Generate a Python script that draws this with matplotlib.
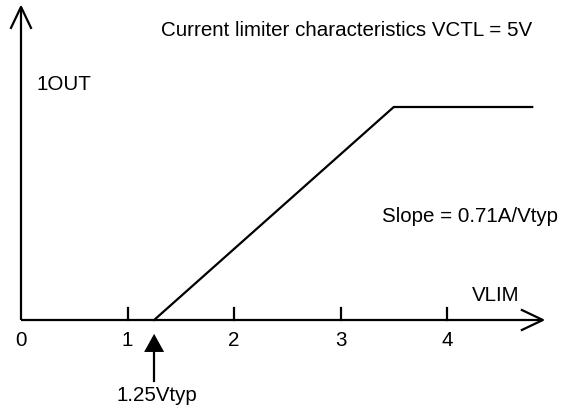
"""Current limiter characteristics sketch (IOUT vs VLIM)."""

import matplotlib
matplotlib.use("Agg")
import matplotlib.pyplot as plt

# Data
tick_vals = [0, 1, 2, 3, 4]
tick_labels = ["0", "1", "2", "3", "4"]
curve_x = [1.25, 3.5, 4.8]
curve_y = [0.0, 2.0, 2.0]
threshold = 1.25
title = "Current limiter characteristics VCTL = 5V"
slope_text = "Slope = 0.71A/Vtyp"

PX = 106.5  # pixels per data unit (both axes)
FONT = ["Liberation Sans", "DejaVu Sans"]
FS = 14.8

fig = plt.figure(figsize=(5.67, 4.10), dpi=100)
ax = fig.add_axes([0, 0, 1, 1])
ax.set_xlim(-21 / PX, (567 - 21) / PX)
ax.set_ylim(-(410 - 321) / PX, 321 / PX)
ax.axis("off")

lw = 1.6
k = "black"
x_end, y_end = 4.9, 2.94
ah_len, ah_w = 21 / PX, 10 / PX

# axes with open arrowheads
ax.plot([0, x_end], [0, 0], color=k, lw=lw, solid_capstyle="butt")
ax.plot([0, 0], [0, y_end], color=k, lw=lw, solid_capstyle="butt")
ax.plot([x_end - ah_len, x_end, x_end - ah_len], [ah_w, 0, -ah_w], color=k, lw=lw)
ax.plot([-ah_w, 0, ah_w], [y_end - ah_len, y_end, y_end - ah_len], color=k, lw=lw)

# ticks
for t in tick_vals[1:]:
    ax.plot([t, t], [0, 12 / PX], color=k, lw=lw)
for t, lab in zip(tick_vals, tick_labels):
    ax.text(t, -0.18, lab, ha="center", va="center", fontsize=FS, family=FONT)

# characteristic curve
ax.plot(curve_x, curve_y, color=k, lw=lw)

# threshold marker
ax.fill([threshold - 10 / PX, threshold, threshold + 10 / PX],
        [-0.30, -0.13, -0.30], color=k, lw=0)
ax.plot([threshold, threshold], [-0.30, -0.575], color=k, lw=lw)
ax.text(threshold + 0.03, -0.70, f"{threshold}Vtyp", ha="center", va="center",
        fontsize=FS, family=FONT)

# labels
ax.text(3.06, 2.73, title, ha="center", va="center", fontsize=FS, family=FONT)
ax.text(0.15, 2.22, "1OUT", ha="left", va="center", fontsize=FS, family=FONT)
ax.text(3.39, 0.98, slope_text, ha="left", va="center", fontsize=FS, family=FONT)
ax.text(4.23, 0.244, "VLIM", ha="left", va="center", fontsize=FS, family=FONT)

fig.savefig("out.png", dpi=100)
